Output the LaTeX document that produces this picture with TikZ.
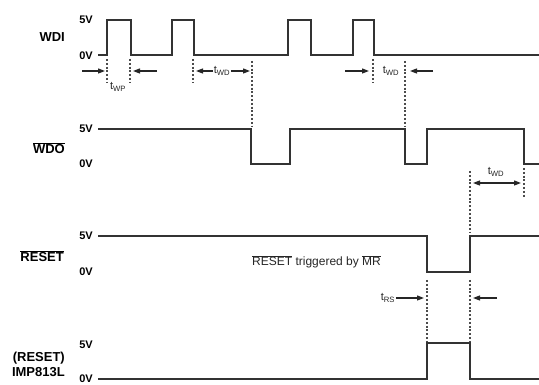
\documentclass[tikz,border=0pt]{standalone}
\usepackage{fontspec}
\setmainfont{Liberation Sans}
\usetikzlibrary{arrows.meta}
\begin{document}
\begin{tikzpicture}[x=1pt,y=-1pt,
  sig/.style={line width=1.7pt, draw=black!80, line join=miter},
  guide/.style={line width=1.4pt, draw=black!70, dash pattern=on 2pt off 1.8pt},
  dimarrow/.style={line width=1.2pt, draw=black!85, -{Triangle[length=7pt,width=5pt]}},
  dimboth/.style={line width=1.2pt, draw=black!85, {Triangle[length=7pt,width=5pt]}-{Triangle[length=7pt,width=5pt]}},
  lab/.style={font=\bfseries\fontsize{13}{15}\selectfont, anchor=east, inner sep=0pt},
  lev/.style={font=\bfseries\fontsize{11}{11}\selectfont, anchor=east, inner sep=0pt},
  tl/.style={font=\fontsize{11}{11}\selectfont, inner sep=0.5pt, text=black!85},
  note/.style={font=\fontsize{12}{12}\selectfont, anchor=west, inner sep=0pt, text=black!85}]
\useasboundingbox (0,0) rectangle (539,385);

% ---------- labels ----------
\node[lab] (wdi) at (65,37) {WDI};
\node[lab] (wdo) at (65,148) {$\overline{\mbox{WDO}}$};
\node[lab] (rst) at (64,256) {$\overline{\mbox{RESET}}$};
\node[lab, align=right] (imp) at (65,364) {(RESET)\\IMP813L};

\node[lev] (v5a) at (93,20) {5V};
\node[lev] (v0a) at (93,56) {0V};
\node[lev] (v5b) at (93,129) {5V};
\node[lev] (v0b) at (93,164) {0V};
\node[lev] (v5c) at (93,236) {5V};
\node[lev] (v0c) at (93,272) {0V};
\node[lev] (v5d) at (93,345) {5V};
\node[lev] (v0d) at (93,379) {0V};

% ---------- signals ----------
\draw[sig] (98,55) -- (107,55) -- (107,20) -- (131,20) -- (131,55) -- (172,55) -- (172,20) -- (194,20) -- (194,55)
  -- (288,55) -- (288,20) -- (311,20) -- (311,55) -- (353,55) -- (353,20) -- (374,20) -- (374,55) -- (539,55);
\draw[sig] (98,129) -- (251,129) -- (251,164) -- (290,164) -- (290,129) -- (405,129) -- (405,164) -- (427,164)
  -- (427,129) -- (524,129) -- (524,164) -- (539,164);
\draw[sig] (98,236) -- (427,236) -- (427,272) -- (470,272) -- (470,236) -- (539,236);
\draw[sig] (98,379) -- (427,379) -- (427,343) -- (470,343) -- (470,379) -- (539,379);

% ---------- guides ----------
\draw[guide] (107,59) -- (107,83);
\draw[guide] (130,59) -- (130,83);
\draw[guide] (193,59) -- (193,83);
\draw[guide] (252,61) -- (252,126);
\draw[guide] (373,59) -- (373,83);
\draw[guide] (405,61) -- (405,126);
\draw[guide] (470,171) -- (470,233);
\draw[guide] (524,168) -- (524,198);
\draw[guide] (427,280) -- (427,341);
\draw[guide] (470,280) -- (470,341);

% ---------- timing annotations ----------
\node[tl] (twp) at (118,87) {t\textsubscript{WP}};
\coordinate (a1s) at (82,71); \coordinate (a1e) at (105,71);
\coordinate (a2s) at (157,71); \coordinate (a2e) at (133,71);
\draw[dimarrow] (a1s) -- (a1e);
\draw[dimarrow] (a2s) -- (a2e);

\node[tl] (twd1) at (222,71) {t\textsubscript{WD}};
\coordinate (b1) at (196,71); \coordinate (b2) at (250,71);
\draw[dimarrow] (twd1.west) -- (b1);
\draw[dimarrow] (twd1.east) -- (b2);

\node[tl] (twd2) at (391,71) {t\textsubscript{WD}};
\coordinate (c1s) at (345,71); \coordinate (c1e) at (369,71);
\coordinate (c2s) at (433,71); \coordinate (c2e) at (410,71);
\draw[dimarrow] (c1s) -- (c1e);
\draw[dimarrow] (c2s) -- (c2e);

\node[tl] (twd3) at (496,172) {t\textsubscript{WD}};
\coordinate (d1) at (473,183); \coordinate (d2) at (521,183);
\draw[dimboth] (d1) -- (d2);

\node[tl] (trs) at (388,298) {t\textsubscript{RS}};
\coordinate (e1e) at (424,298);
\coordinate (e2s) at (497,298); \coordinate (e2e) at (473,298);
\draw[dimarrow] (trs.east) -- (e1e);
\draw[dimarrow] (e2s) -- (e2e);

\node[note] (trig) at (252,262) {$\overline{\mbox{RESET}}$ triggered by $\overline{\mbox{MR}}$};
\end{tikzpicture}
\end{document}
